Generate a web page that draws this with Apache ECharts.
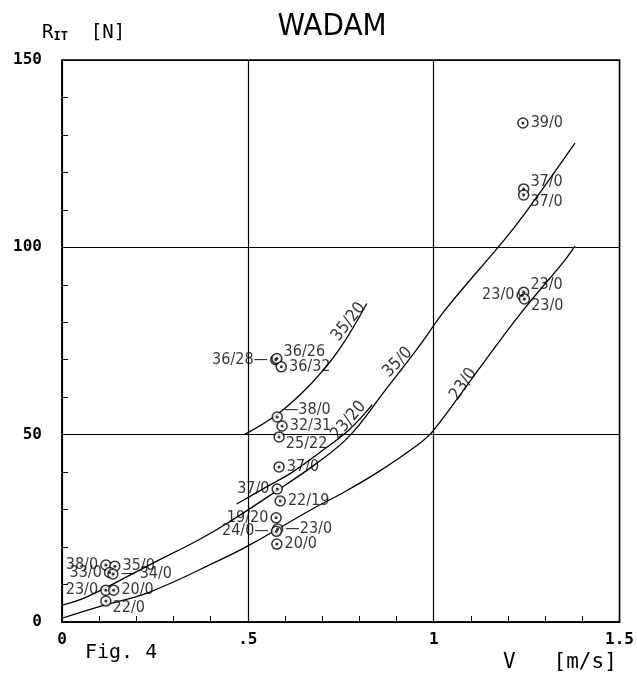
<!DOCTYPE html>
<html><head><meta charset="utf-8">
<script src="https://cdn.jsdelivr.net/npm/echarts@6/dist/echarts.min.js"></script>
<style>html,body{margin:0;padding:0;background:#fff}#c{width:637px;height:675px}</style>
</head><body><div id="c"></div>
<script>
// ---- data ----
const xTicks = [0, 0.5, 1, 1.5];
const xTickLabels = ['0', '.5', '1', '1.5'];
const yTicks = [0, 50, 100, 150];
const yTickLabels = ['0', '50', '100', '150'];

// measured points: V [m/s] and R [N]
const pointsV = [0.118,0.142,0.128,0.137,0.118,0.139,0.118,
  0.575,0.578,0.590,0.579,0.592,0.584,0.584,0.579,0.587,0.576,0.580,0.577,0.578,
  1.240,1.242,1.242,1.238,1.242,1.244];
const pointsR = [15.2,14.9,13.2,12.8,8.5,8.5,5.6,
  70.0,70.3,68.1,54.7,52.3,49.4,41.4,35.5,32.3,27.8,24.8,24.2,20.8,
  133.2,115.6,114.0,87.2,88.0,86.2];
const pointLabels = ['38/0','35/0','33/0','34/0','23/0','20/0','22/0',
  '36/28','36/26','36/32','38/0','32/31','25/22','37/0','37/0','22/19','19/20','23/0','24/0','20/0',
  '39/0','37/0','37/0','23/0','23/0','23/0'];

// curves, digitised: [V, R]
const curve35_20 = [[0.49,50],[0.584,55.8],[0.672,63.8],[0.745,72.6],[0.82,85]];
const curve23_20 = [[0.47,31.5],[0.549,36],[0.62,40],[0.69,45],[0.771,51.2],[0.835,58]];
const curve35_0 = [[0,4.5],[0.067,6.7],[0.25,16],[0.367,21.9],[0.45,26.7],[0.6,36.5],[0.68,42],[0.771,49.4],[0.87,61.9],[0.96,73.5],[1.031,83.3],[1.19,102],[1.248,109.4],[1.38,127.8]];
const curve23_0 = [[0,1],[0.107,4.3],[0.236,8],[0.424,16.5],[0.504,20.5],[0.683,30.7],[0.745,33.9],[0.85,40],[0.96,47.5],[1.0,51.2],[1.12,67.3],[1.235,82.5],[1.353,96.6],[1.38,100.3]];
const curveNames = ['35/20','23/20','35/0','23/0'];
const curveLabelAt = [[0.771,80.1],[0.771,53.8],[0.903,69.3],[1.08,63.5]];

// ---- label placement (style) ----
const place = {
  0:['left'],1:['right'],2:['left'],3:['right','— 34/0'],4:['left'],5:['right'],6:['br'],
  7:['left','36/28—'],8:['tr'],9:['right'],10:['tr','—38/0'],11:['right'],12:['br'],13:['right'],
  14:['left'],15:['right'],16:['left'],17:['right','—23/0'],18:['left','24/0—'],19:['right'],
  20:['right'],21:['tr'],22:['br'],23:['left'],24:['tr'],25:['br']
};
const FONT = "'DejaVu Sans Condensed','Liberation Sans Narrow',sans-serif";
const TFONT = "'Liberation Sans Narrow','DejaVu Sans Condensed',sans-serif";
const MONO = "'DejaVu Sans Mono','Liberation Mono',monospace";

const pts = pointsV.map((v,i)=>{
  const p = place[i] || ['right'];
  const text = p[1] || pointLabels[i];
  let lab = {show:true, formatter:text, fontFamily:FONT, fontSize:16, color:'#000'};
  if (p[0]==='left') Object.assign(lab,{position:'left',distance:2});
  else if (p[0]==='right') Object.assign(lab,{position:'right',distance:2});
  else if (p[0]==='tr') Object.assign(lab,{position:'right',distance:1,offset:[0,-7]});
  else if (p[0]==='br') Object.assign(lab,{position:'right',distance:1,offset:[0,7]});
  return {value:[v,pointsR[i]], label:lab};
});

const lineStyle = {color:'#000', width:1.3};
const curves = [curve35_20, curve23_20, curve35_0, curve23_0];
const rot = [52, 50, 46, 55];

const series = [];
curves.forEach(c=>series.push({type:'line', data:c, smooth:0.4, showSymbol:false, lineStyle, silent:true, z:2}));
series.push({type:'scatter', data:curveLabelAt.map((p,i)=>({value:p,
  label:{show:true, formatter:curveNames[i], position:'inside', rotate:rot[i], fontFamily:FONT, fontSize:17, color:'#000'}})),
  symbolSize:0, silent:true, z:4});
series.push({type:'scatter', data:pts, symbol:'circle', symbolSize:10,
  itemStyle:{color:'#fff', borderColor:'#000', borderWidth:1.5}, z:5});
series.push({type:'scatter', data:pointsV.map((v,i)=>[v,pointsR[i]]), symbol:'circle', symbolSize:3,
  itemStyle:{color:'#000'}, z:6, silent:true});

const chart = echarts.init(document.getElementById('c'), null, {renderer:'canvas'});
chart.setOption({
  animation:false,
  backgroundColor:'#fff',
  title:{text:'WADAM', left:327, top:6, textAlign:'center',
    textStyle:{fontFamily:TFONT, fontWeight:'normal', fontSize:31, color:'#000'}},
  grid:{left:62, right:15, top:60, bottom:53, show:true, borderColor:'#000', borderWidth:1.5, backgroundColor:'transparent'},
  xAxis:{type:'value', min:0, max:1.5, interval:0.5,
    axisLine:{show:true, lineStyle:{color:'#000', width:1.5}},
    axisTick:{show:true, inside:true, length:6, lineStyle:{color:'#000'}},
    minorTick:{show:true, splitNumber:5, length:6, lineStyle:{color:'#000'}},
    splitLine:{show:true, lineStyle:{color:'#000', width:1.2}},
    axisLabel:{margin:10, fontFamily:MONO, fontWeight:'bold', fontSize:16, color:'#000',
      formatter:v=>{const k=xTicks.findIndex(t=>Math.abs(t-v)<1e-9); return k>=0?xTickLabels[k]:'';}}},
  yAxis:{type:'value', min:0, max:150, interval:50,
    axisLine:{show:true, lineStyle:{color:'#000', width:1.5}},
    axisTick:{show:true, inside:true, length:6, lineStyle:{color:'#000'}},
    minorTick:{show:true, splitNumber:5, length:6, lineStyle:{color:'#000'}},
    splitLine:{show:true, lineStyle:{color:'#000', width:1.2}},
    axisLabel:{margin:20, fontFamily:MONO, fontWeight:'bold', fontSize:16, color:'#000',
      formatter:v=>{const k=yTicks.findIndex(t=>Math.abs(t-v)<1e-9); return k>=0?yTickLabels[k]:'';}}},
  graphic:[
    {type:'text', left:42, top:24, style:{rich:{r:{fontFamily:MONO,fontSize:19,fill:'#000'}, s:{fontFamily:MONO,fontSize:12,fontWeight:'bold',fill:'#000',padding:[6,0,0,0]}}, text:'{r|R}{s|IT}{r|  [N]}', fill:'#000'}},
    {type:'text', left:85, top:643, style:{text:'Fig. 4', fontFamily:MONO, fontSize:20, fill:'#000'}},
    {type:'text', left:503, top:652, style:{text:'V   [m/s]', fontFamily:MONO, fontSize:21, fill:'#000'}}
  ],
  series
});
</script></body></html>
